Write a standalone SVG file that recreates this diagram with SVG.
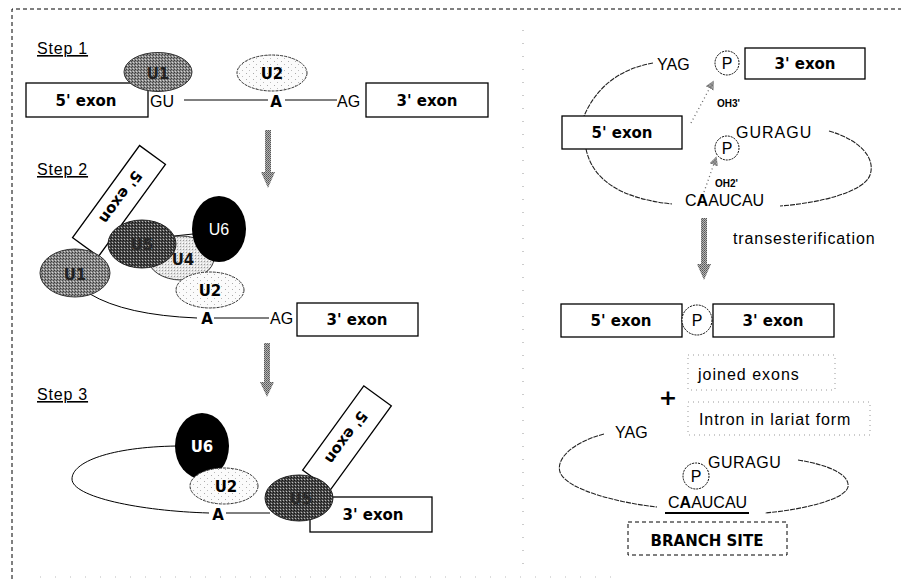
<svg xmlns="http://www.w3.org/2000/svg" width="901" height="579" viewBox="0 0 901 579">
<defs>
<pattern id="hMid" width="3" height="3" patternUnits="userSpaceOnUse"><rect width="3" height="3" fill="#8a8a8a"/><rect width="1" height="1" fill="#3a3a3a"/><rect x="2" y="1" width="1" height="1" fill="#4a4a4a"/><rect x="1" y="2" width="1" height="1" fill="#d4d4d4"/></pattern>
<pattern id="hDark" width="3" height="3" patternUnits="userSpaceOnUse"><rect width="3" height="3" fill="#4a4a4a"/><rect width="1" height="1" fill="#111"/><rect x="2" y="1" width="1" height="1" fill="#222"/><rect x="1" y="2" width="1" height="1" fill="#bbb"/></pattern>
<pattern id="hLight" width="3" height="3" patternUnits="userSpaceOnUse"><rect width="3" height="3" fill="#e4e4e4"/><rect width="1" height="1" fill="#999"/><rect x="2" y="2" width="1" height="1" fill="#fff"/></pattern>
<pattern id="dots" width="7" height="6" patternUnits="userSpaceOnUse"><rect width="7" height="6" fill="#fbfbfb"/><rect x="1" y="1" width="1" height="1" fill="#aaa"/><rect x="4" y="4" width="1" height="1" fill="#bbb"/></pattern>
<pattern id="stip" width="2" height="2" patternUnits="userSpaceOnUse"><rect width="2" height="2" fill="#b5b5b5"/><rect width="1" height="1" fill="#555"/><rect x="1" y="1" width="1" height="1" fill="#6a6a6a"/></pattern>
<marker id="dotHead" viewBox="0 0 10 10" refX="8" refY="5" markerWidth="7" markerHeight="7" orient="auto"><path d="M0,0 L10,5 L0,10 Z" fill="url(#stip)"/></marker>
</defs>
<style>
.box{fill:#fff;stroke:#000;stroke-width:1.3}
.ex{font-family:"DejaVu Sans",sans-serif;font-weight:bold;font-size:15px;text-anchor:middle;fill:#000}
.nt{font-family:"Liberation Sans",Arial,sans-serif;font-size:16px;fill:#000}
.ub{font-family:"DejaVu Sans",sans-serif;font-weight:bold;font-size:15px;text-anchor:middle}
.step{font-family:"Liberation Sans",Arial,sans-serif;font-size:16px;letter-spacing:0.8px;text-decoration:underline;fill:#000}
.ln{fill:none;stroke:#000;stroke-width:1}
.loop{fill:none;stroke:#222;stroke-width:1.1;stroke-dasharray:5,1}
.pc{fill:#fff;stroke:#000;stroke-width:1;stroke-dasharray:2,1}
.pt{font-family:"Liberation Sans",Arial,sans-serif;font-size:16px;text-anchor:middle}
.dbox{fill:none;stroke:#999;stroke-width:1;stroke-dasharray:1,4}
.oh{font-family:"Liberation Sans",Arial,sans-serif;font-weight:bold;font-size:10px;fill:#000}
.darr{fill:none;stroke:#666;stroke-width:1.3;stroke-dasharray:1,3}
.big{fill:url(#stip)}
</style>
<rect width="901" height="579" fill="#fff"/>
<!-- frame -->
<path d="M12,579 V9 H901" fill="none" stroke="#000" stroke-width="1" stroke-dasharray="4,3"/>
<line x1="523" y1="30" x2="523" y2="565" stroke="#999" stroke-width="1" stroke-dasharray="1,12"/>
<line x1="40" y1="577" x2="620" y2="577" stroke="#bbb" stroke-width="1" stroke-dasharray="1,14"/>

<g id="connectors">
  <!-- step 1 -->
  <line class="ln" x1="184" y1="100" x2="268" y2="100"/>
  <line class="ln" x1="285" y1="100" x2="337" y2="100"/>
  <!-- step 2 -->
  <path class="ln" d="M90,294 Q125,315 197,318"/>
  <line class="ln" x1="214" y1="318" x2="269" y2="318"/>
  <line class="ln" x1="174" y1="236" x2="193" y2="234"/>
  <!-- step 3 -->
  <path class="ln" d="M177,446 C110,447 72,462 72,479 C72,497 140,511 209,513"/>
  <line class="ln" x1="226" y1="513" x2="270" y2="513"/>
  <!-- big arrows -->
  <rect class="big" x="265" y="130" width="6" height="44"/><polygon class="big" points="261,172 275,172 268,188"/>
  <rect class="big" x="264" y="343" width="6" height="41"/><polygon class="big" points="260,382 274,382 267,397"/>
  <rect class="big" x="701" y="218" width="6" height="48"/><polygon class="big" points="697,264 711,264 704,280"/>
  <!-- right panel loops -->
  <path class="loop" d="M653,63 Q603,72 584,116"/>
  <path class="loop" d="M586,149 Q596,196 672,204"/>
  <path class="loop" d="M829,131 C860,140 876,158 870,175 C864,192 820,203 780,206"/>
  <path class="darr" d="M691,123 L713,82" marker-end="url(#dotHead)"/>
  <path class="darr" d="M704,192 L716,158" marker-end="url(#dotHead)"/>
  <!-- lariat loops -->
  <path class="loop" d="M604,434 C570,443 556,460 560,472 C566,490 620,503 657,507"/>
  <path class="loop" d="M798,460 C830,465 850,475 848,487 C845,500 800,510 765,513"/>
</g>

<!-- Step 1 -->
<g id="step1-label"><text class="step" x="37" y="54">Step 1</text></g>
<g id="s1-5exon"><rect class="box" x="26" y="83" width="122" height="34"/><text class="ex" x="86" y="106">5' exon</text></g>
<g id="s1-u1"><ellipse cx="158" cy="72" rx="34" ry="19.5" fill="url(#hMid)" stroke="#333" stroke-width="1"/><text class="ub" x="158" y="79" style="fill:#222">U1</text></g>
<g id="s1-u2"><ellipse cx="272" cy="73" rx="35" ry="18" fill="url(#dots)" stroke="#333" stroke-width="1" stroke-dasharray="3,1"/><text class="ub" x="272" y="79" style="fill:#000">U2</text></g>
<g id="s1-seq"><text class="nt" x="150" y="107">GU</text><text class="ub" x="276" y="107" style="fill:#000;font-size:15px">A</text><text class="nt" x="337" y="107">AG</text></g>
<g id="s1-3exon"><rect class="box" x="366" y="83" width="122" height="34"/><text class="ex" x="427" y="106">3' exon</text></g>

<!-- Step 2 -->
<g id="step2-label"><text class="step" x="37" y="175">Step 2</text></g>
<g id="s2-5exon"><g transform="translate(119,201) rotate(126)"><rect class="box" x="-57" y="-16" width="114" height="32"/><text class="ex" x="-4" y="6">5' exon</text></g></g>
<g id="s2-u4"><ellipse cx="181" cy="258" rx="33" ry="22" fill="url(#hLight)" stroke="#333" stroke-width="1"/><text class="ub" x="183" y="265" style="fill:#111">U4</text></g>
<g id="s2-u5"><ellipse cx="142" cy="244" rx="34" ry="24" fill="url(#hDark)" stroke="#222" stroke-width="1"/><text class="ub" x="142" y="250" style="fill:#2a2a2a">U5</text></g>
<g id="s2-u6"><ellipse cx="219" cy="229" rx="27" ry="33" fill="#000"/><text class="pt" x="219" y="235" style="fill:#fff">U6</text></g>
<g id="s2-u2"><ellipse cx="210" cy="290" rx="34" ry="18" fill="url(#dots)" stroke="#333" stroke-width="1" stroke-dasharray="3,1"/><text class="ub" x="210" y="296" style="fill:#000">U2</text></g>
<g id="s2-u1"><ellipse cx="75" cy="273" rx="35" ry="24" fill="url(#hMid)" stroke="#333" stroke-width="1"/><text class="ub" x="75" y="280" style="fill:#222">U1</text></g>
<g id="s2-seq"><text class="ub" x="207" y="324" style="fill:#000;font-size:15px">A</text><text class="nt" x="270" y="324">AG</text></g>
<g id="s2-3exon"><rect class="box" x="297" y="303" width="121" height="33"/><text class="ex" x="357" y="325">3' exon</text></g>

<!-- Step 3 -->
<g id="step3-label"><text class="step" x="37" y="400">Step 3</text></g>
<g id="s3-5exon"><g transform="translate(347,438) rotate(126)"><rect class="box" x="-52" y="-17" width="104" height="34"/><text class="ex" x="0" y="6">5' exon</text></g></g>
<g id="s3-3exon"><rect class="box" x="310" y="497" width="122" height="35"/><text class="ex" x="373" y="520">3' exon</text></g>
<g id="s3-u5"><ellipse cx="299" cy="498" rx="34" ry="23" fill="url(#hDark)" stroke="#222" stroke-width="1"/><text class="ub" x="301" y="504" style="fill:#2a2a2a">U5</text></g>
<g id="s3-u6"><ellipse cx="202" cy="446" rx="27" ry="33" fill="#000"/><text class="ub" x="202" y="452" style="fill:#fff">U6</text></g>
<g id="s3-u2"><ellipse cx="224" cy="486" rx="34" ry="18" fill="url(#dots)" stroke="#333" stroke-width="1" stroke-dasharray="3,1"/><text class="ub" x="226" y="492" style="fill:#000">U2</text></g>
<g id="s3-seq"><text class="ub" x="218" y="520" style="fill:#000;font-size:15px">A</text></g>

<!-- Right panel: mechanism -->
<g id="r-yag"><text class="nt" x="657" y="70">YAG</text></g>
<g id="r-p1"><circle class="pc" cx="727" cy="63" r="12"/><text class="pt" x="727" y="69" style="fill:#000">P</text></g>
<g id="r-3exon"><rect class="box" x="745" y="48" width="120" height="31"/><text class="ex" x="805" y="69">3' exon</text></g>
<g id="r-5exon"><rect class="box" x="562" y="116" width="120" height="33"/><text class="ex" x="622" y="138">5' exon</text></g>
<g id="r-oh3"><text class="oh" x="717" y="107">OH3'</text></g>
<g id="r-p2"><circle class="pc" cx="727" cy="148" r="12"/><text class="pt" x="727" y="154" style="fill:#000">P</text></g>
<g id="r-guragu"><text class="nt" x="736" y="138" font-size="17px" letter-spacing="1">GURAGU</text></g>
<g id="r-oh2"><text class="oh" x="715" y="187">OH2'</text></g>
<g id="r-caaucau"><text class="nt" x="685" y="206" font-size="18px">C<tspan font-weight="bold">A</tspan>AUCAU</text></g>
<g id="r-trans"><text class="nt" x="733" y="244" letter-spacing="0.9">transesterification</text></g>

<!-- joined exons -->
<g id="j-5exon"><rect class="box" x="561" y="304" width="121" height="33"/><text class="ex" x="621" y="326">5' exon</text></g>
<g id="j-p"><circle class="pc" cx="697" cy="320" r="15"/><text class="pt" x="697" y="326" style="fill:#000">P</text></g>
<g id="j-3exon"><rect class="box" x="713" y="304" width="121" height="33"/><text class="ex" x="773" y="326">3' exon</text></g>
<g id="lbl-joined"><rect class="dbox" x="688" y="355" width="147" height="35"/><text class="nt" x="698" y="380" letter-spacing="1">joined exons</text></g>
<g id="plus"><text x="668" y="405" font-family="DejaVu Sans,sans-serif" font-weight="bold" font-size="22px" text-anchor="middle">+</text></g>
<g id="lbl-intron"><rect class="dbox" x="688" y="402" width="182" height="33"/><text class="nt" x="699" y="425" letter-spacing="0.9">Intron in lariat form</text></g>

<!-- lariat -->
<g id="l-yag"><text class="nt" x="615" y="438">YAG</text></g>
<g id="l-guragu"><text class="nt" x="708" y="468" font-size="17px" letter-spacing="0.5">GURAGU</text></g>
<g id="l-p"><circle class="pc" cx="696" cy="476" r="13"/><text class="pt" x="696" y="482" style="fill:#000">P</text></g>
<g id="l-caaucau"><text class="nt" x="668" y="508" font-size="18px">C<tspan font-weight="bold">A</tspan>AUCAU</text><line x1="665" y1="513" x2="749" y2="513" stroke="#000" stroke-width="2"/></g>
<g id="branch-site"><rect x="628" y="522" width="159" height="33" fill="none" stroke="#000" stroke-width="1" stroke-dasharray="4,3"/><text class="ex" x="707" y="546" font-size="16px">BRANCH SITE</text></g>
</svg>
